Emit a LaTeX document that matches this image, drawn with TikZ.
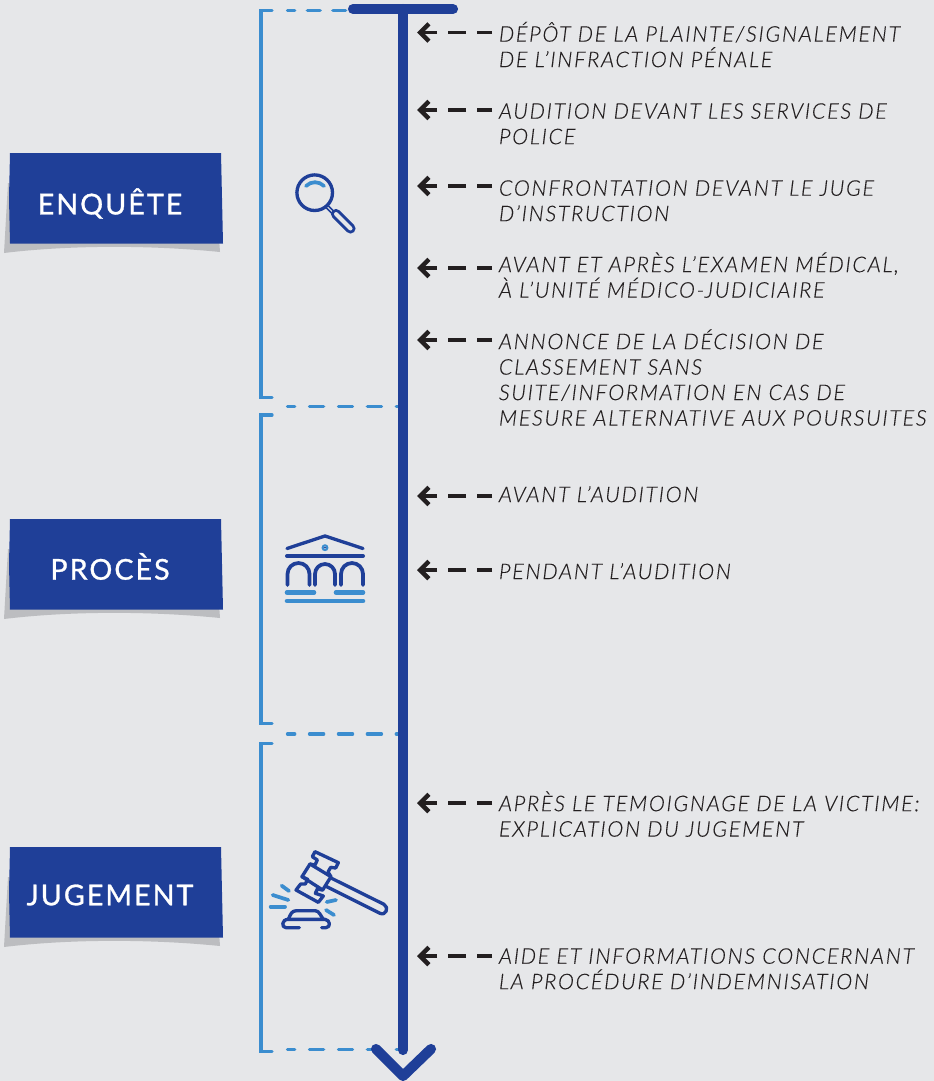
\documentclass[tikz,border=0pt]{standalone}
\usepackage{fontspec}
\usepackage{xcolor}
\usetikzlibrary{arrows.meta,calc}
\newfontfamily\stepfont[LetterSpace=7.7,FakeBold=0.15]{Lato Light}
\newfontfamily\tagfont[LetterSpace=7,FakeBold=1]{Lato}
\definecolor{pagegray}{RGB}{230,231,233}
\definecolor{darkblue}{RGB}{31,63,152}
\definecolor{lightblue}{RGB}{59,141,207}
\definecolor{shadowgray}{RGB}{188,189,192}
\definecolor{inkblack}{RGB}{35,31,32}
% blue tag with its curled shadow, #1 is the top of the tag
\newcommand{\tagback}[1]{
  \begin{scope}[shift={(0,#1)}]
    \fill[shadowgray] (8,30) -- (4,100) .. controls (70,92) and (150,92) .. (220,99) -- (219,85) -- cycle;
    \fill[darkblue] (10,0) -- (221,0) -- (223,90.5) -- (10,90.5) -- (9,45) -- cycle;
  \end{scope}
}
\begin{document}
\begin{tikzpicture}[
  x=0.75pt, y=-0.75pt,
  tagtext/.style={text=white, inner sep=0pt, font=\tagfont\fontsize{21.5}{24}\selectfont},
  steptext/.style={
    anchor=north west,
    align=left,
    inner xsep=5pt,
    inner ysep=0pt,
    text=inkblack,
    font=\stepfont\itshape\fontsize{16.2}{19.1}\selectfont,
    execute at begin node=\strut
  },
  pointer/.style={
    -{Straight Barb[length=6.5pt,width=13pt,line width=3.4pt]},
    line width=2.8pt,
    draw=inkblack,
    dash pattern=on 11.25pt off 8.25pt on 13.5pt off 8.25pt on 40pt
  },
  spine/.style={line width=7.6pt, draw=darkblue, line cap=round, line join=round},
  bracket/.style={line width=2.5pt, draw=lightblue, line cap=round},
  link/.style={
    line width=2.5pt, draw=lightblue, line cap=round,
    dash pattern=on 5.4pt off 11.1pt on 10.6pt off 11.1pt on 10.6pt off 11.1pt on 10.6pt off 11.1pt on 10.6pt off 11.1pt
  },
  toplink/.style={
    line width=2.5pt, draw=lightblue, line cap=round,
    dash pattern=on 5.4pt off 9.5pt on 9.6pt off 9.5pt on 9.6pt off 30pt
  },
  icon/.style={line width=2.5pt, draw=darkblue, line cap=round, line join=round},
  iconlight/.style={line width=2.8pt, draw=lightblue, line cap=round}
]

% Page
\fill[pagegray] (0,0) rectangle (934,1081);
\useasboundingbox (0,0) rectangle (934,1081);

% Phase tags
\tagback{153}
\tagback{519}
\tagback{847}
\node[tagtext] (enquete) at (110,203.5) {ENQUÊTE};
\node[tagtext] (proces) at (110,566.5) {PROCÈS};
\node[tagtext] (jugement) at (110,895) {JUGEMENT};

% Spine coordinates
\coordinate (spinetop) at (403,9);
\coordinate (spinebot) at (403,1050);
\coordinate (barleft) at (353,9);
\coordinate (barright) at (453,9);
\coordinate (tipleft) at (376,1049);
\coordinate (tipmid) at (403,1076);
\coordinate (tipright) at (431,1049);

% Brackets
\draw[bracket] (272,10.5) -- (261,10.5) -- (261,397.3) -- (272,397.3);
\draw[bracket] (272,415) -- (261,415) -- (261,723.5) -- (272,723.5);
\draw[bracket] (272,743.3) -- (261,743.3) -- (261,1051.6) -- (272,1051.6);

% Dashed links to the spine
\coordinate (link1) at (287.5,10.5);
\coordinate (link2) at (287.5,406.5);
\coordinate (link3) at (287.5,734);
\coordinate (link4) at (287.5,1049.4);
\draw[toplink] (link1) -- (link1 -| spinetop);
\draw[link] (link2) -- (link2 -| spinetop);
\draw[link] (link3) -- (link3 -| spinetop);
\draw[link] (link4) -- (link4 -| spinetop);

% Spine
\draw[spine] (spinetop) -- (spinebot);
\draw[spine] (barleft) -- (barright);
\draw[spine] (tipleft) -- (tipmid) -- (tipright);

% Steps
\node[steptext] (depot) at (492,21.5) {DÉPÔT DE LA PLAINTE/SIGNALEMENT\\DE L’INFRACTION PÉNALE};
\node[steptext] (audition) at (492,103) {AUDITION DEVANT LES SERVICES DE\\POLICE};
\node[steptext] (confront) at (492,180) {CONFRONTATION DEVANT LE JUGE\\D’INSTRUCTION};
\node[steptext] (examen) at (492,252) {AVANT ET APRÈS L’EXAMEN MÉDICAL,\\À L’UNITÉ MÉDICO-JUDICIAIRE};
\node[steptext] (annonce) at (492,329) {ANNONCE DE LA DÉCISION DE\\CLASSEMENT SANS\\SUITE/INFORMATION EN CAS DE\\MESURE ALTERNATIVE AUX POURSUITES};
\node[steptext] (avant) at (492,484) {AVANT L’AUDITION};
\node[steptext] (pendant) at (492,561) {PENDANT L’AUDITION};
\node[steptext] (temoin) at (492,791) {APRÈS LE TEMOIGNAGE DE LA VICTIME:\\EXPLICATION DU JUGEMENT};
\node[steptext] (indemn) at (492,948) {AIDE ET INFORMATIONS CONCERNANT\\LA PROCÉDURE D’INDEMNISATION};

% Pointers back to the spine
\coordinate (hit1) at (417,32.5);
\coordinate (hit2) at (417,110);
\coordinate (hit3) at (417,186);
\coordinate (hit4) at (417,268);
\coordinate (hit5) at (417,340);
\coordinate (hit6) at (417,496);
\coordinate (hit7) at (417,570);
\coordinate (hit8) at (417,803);
\coordinate (hit9) at (417,956);
\draw[pointer] (hit1 -| depot.west) -- (hit1);
\draw[pointer] (hit2 -| audition.west) -- (hit2);
\draw[pointer] (hit3 -| confront.west) -- (hit3);
\draw[pointer] (hit4 -| examen.west) -- (hit4);
\draw[pointer] (hit5 -| annonce.west) -- (hit5);
\draw[pointer] (hit6 -| avant.west) -- (hit6);
\draw[pointer] (hit7 -| pendant.west) -- (hit7);
\draw[pointer] (hit8 -| temoin.west) -- (hit8);
\draw[pointer] (hit9 -| indemn.west) -- (hit9);

% Magnifier
\draw[icon] (314.7,192.7) circle (17.8);
\draw[iconlight] (306,186) .. controls (311,181) and (319,181) .. (324,186);
\draw[icon, line width=1.2pt] (327,204.5) -- (334,211.5);
\draw[icon, line width=1.2pt] (325,206.5) -- (332,213.5);
\draw[icon, line width=7.6pt] (336,214) -- (350.5,228.5);
\draw[pagegray, line width=3pt, line cap=round] (336,214) -- (350.5,228.5);

% Court house
\draw[icon] (287,548.5) -- (325,536) -- (363,548.5);
\draw[icon, line width=3pt] (287,556) -- (363,556);
\draw[iconlight, line width=1.5pt] (325,547.7) circle (2.4);
\fill[darkblue] (325,547.7) circle (1);
\draw[icon, line width=2.8pt] (287.5,585) -- (287.5,574) arc[start angle=180, end angle=360, radius=11] -- (309.5,585);
\draw[icon, line width=2.8pt] (315,585) -- (315,574) arc[start angle=180, end angle=360, radius=10] -- (335,585);
\draw[icon, line width=2.8pt] (341,585) -- (341,574) arc[start angle=180, end angle=360, radius=11] -- (363,585);
\draw[iconlight, line width=3.4pt] (287,592.5) -- (314,592.5);
\draw[iconlight, line width=3.4pt] (336,592.5) -- (363,592.5);
\draw[iconlight, line width=3.4pt] (287,601) -- (363,601);

% Gavel
\begin{scope}[shift={(260,840)}, x=0.25pt, y=-0.25pt]
  \draw[icon] (165,35) -- (235,68) -- (227,84) -- (212,82) -- (204,96) -- (213,110) -- (188,150) -- (172,147) -- (166,160) -- (190,168) -- (175,187) -- (108,150) -- (122,132) -- (136,132) -- (143,118) -- (126,110) -- (150,72) -- (165,75) -- (172,60) -- (157,50) -- cycle;
  \draw[icon] (150,72) -- (213,110);
  \draw[icon] (126,110) -- (188,150);
  \draw[icon] (215,115) -- (372,193) .. controls (388,202) and (378,228) .. (360,220) -- (200,140);
  \draw[iconlight] (65,137) -- (87,153);
  \draw[iconlight] (38,165) -- (85,180);
  \draw[iconlight] (32,200) -- (75,200);
  \draw[iconlight] (200,186) -- (228,180);
  \draw[iconlight] (198,210) -- (222,225);
  \draw[icon] (118,263) -- (78,263) .. controls (64,263) and (64,238) .. (85,238) -- (195,238) .. controls (212,240) and (212,263) .. (198,263) -- (185,263);
  \draw[icon] (85,238) .. controls (92,222) and (95,212) .. (110,212) -- (165,212) .. controls (178,212) and (182,228) .. (190,238);
\end{scope}

\end{tikzpicture}
\end{document}
